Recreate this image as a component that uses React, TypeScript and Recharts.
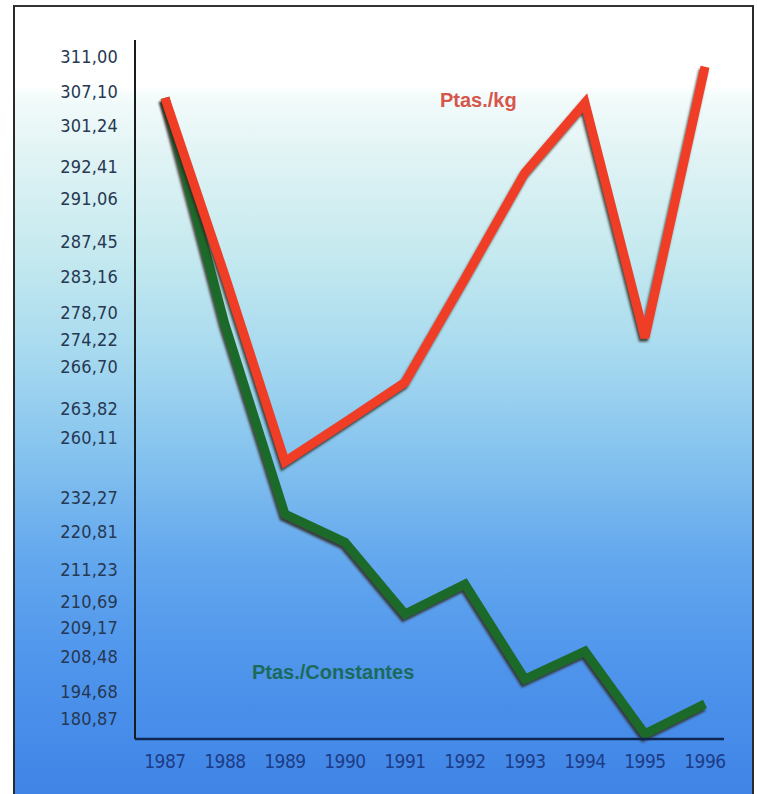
import { LineChart, Line, XAxis, YAxis } from 'recharts';

// Years on the horizontal axis
const years = ['1987', '1988', '1989', '1990', '1991', '1992', '1993', '1994', '1995', '1996'];

// Series values (plotted on a linear Ptas scale)
const ptasKg = [305.5, 261, 214.5, 224.3, 234.3, 260.3, 286.8, 304.3, 245.5, 313.3];
const ptasConstantes = [305.5, 248.8, 201.3, 194.3, 176.3, 183.8, 160, 167, 146.3, 153.8];

// Printed y labels and where each one sits on the axis
const tickLabels = [
  '311,00', '307,10', '301,24', '292,41', '291,06', '287,45', '283,16', '278,70', '274,22', '266,70',
  '263,82', '260,11', '232,27', '220,81', '211,23', '210,69', '209,17', '208,48', '194,68', '180,87',
];
const tickLevels = [
  315.75, 307, 298.5, 288.25, 280.25, 269.5, 260.75, 251.75, 245, 238.25,
  227.75, 220.5, 205.5, 197, 187.5, 179.5, 173, 165.75, 156.75, 150,
];

const data = years.map((year, i) => ({
  year,
  kg: ptasKg[i],
  constantes: ptasConstantes[i],
}));

const narrow = "'Liberation Sans Narrow', 'DejaVu Sans Condensed', sans-serif";

export default function App() {
  return (
    <div
      style={{
        position: 'absolute',
        left: 0,
        top: 0,
        width: 757,
        height: 794,
        background: '#fff',
        overflow: 'hidden',
      }}
    >
      <div
        style={{
          position: 'absolute',
          left: 13,
          top: 5,
          width: 737,
          height: 800,
          borderTop: '2px solid #333',
          borderLeft: '2px solid #2a2a2a',
          borderRight: '2px solid #2a2a2a',
          background:
            'linear-gradient(to bottom, #ffffff 0px, #ffffff 80px, #f4fbfb 88px, #e0f3f4 150px, #c4e9ef 250px, #a6d9ef 350px, #84c2ee 450px, #64a8ee 550px, #5096ec 650px, #3f84e6 790px)',
        }}
      />
      <svg width={0} height={0} style={{ position: 'absolute' }}>
        <defs>
          <filter id="lineShadow" filterUnits="userSpaceOnUse" x={0} y={0} width={757} height={794}>
            <feDropShadow dx={-1.5} dy={3} stdDeviation={0.8} floodColor="#2e2a1e" floodOpacity={0.85} />
          </filter>
        </defs>
      </svg>
      <div style={{ position: 'absolute', left: 0, top: 0 }}>
        <LineChart width={757} height={794} data={data} margin={{ top: 40, right: 33, bottom: 0, left: 14 }}>
          <XAxis
            dataKey="year"
            height={55}
            padding={{ left: 30, right: 19 }}
            axisLine={{ stroke: '#0e2550', strokeWidth: 2.5 }}
            tickLine={false}
            tickSize={0}
            tickMargin={16}
            interval={0}
            tick={{ fill: '#1d3c86', fontSize: 19, fontFamily: narrow, letterSpacing: -0.5 }}
          />
          <YAxis
            type="number"
            width={121}
            domain={[145, 320]}
            ticks={tickLevels}
            interval={0}
            tickFormatter={(v: number) => tickLabels[tickLevels.indexOf(v)]}
            axisLine={{ stroke: '#1a1a1a', strokeWidth: 2 }}
            tickLine={false}
            tickSize={0}
            tickMargin={17}
            tick={{ fill: '#263852', fontSize: 18, fontFamily: narrow, letterSpacing: 0.2 }}
          />
          <Line
            type="linear"
            dataKey="constantes"
            stroke="#1f6b2c"
            strokeWidth={9}
            strokeLinejoin="miter"
            dot={false}
            filter="url(#lineShadow)"
            isAnimationActive={false}
          />
          <Line
            type="linear"
            dataKey="kg"
            stroke="#f03c28"
            strokeWidth={9}
            strokeLinejoin="miter"
            dot={false}
            filter="url(#lineShadow)"
            isAnimationActive={false}
          />
        </LineChart>
      </div>
      <div
        style={{
          position: 'absolute',
          left: 440,
          top: 89,
          fontFamily: "'Liberation Sans', Arial, sans-serif",
          fontWeight: 'bold',
          fontSize: 20,
          lineHeight: '22px',
          color: '#d6564c',
        }}
      >
        Ptas./kg
      </div>
      <div
        style={{
          position: 'absolute',
          left: 252,
          top: 661,
          fontFamily: "'Liberation Sans', Arial, sans-serif",
          fontWeight: 'bold',
          fontSize: 20,
          lineHeight: '22px',
          color: '#1b6a5c',
        }}
      >
        Ptas./Constantes
      </div>
    </div>
  );
}
